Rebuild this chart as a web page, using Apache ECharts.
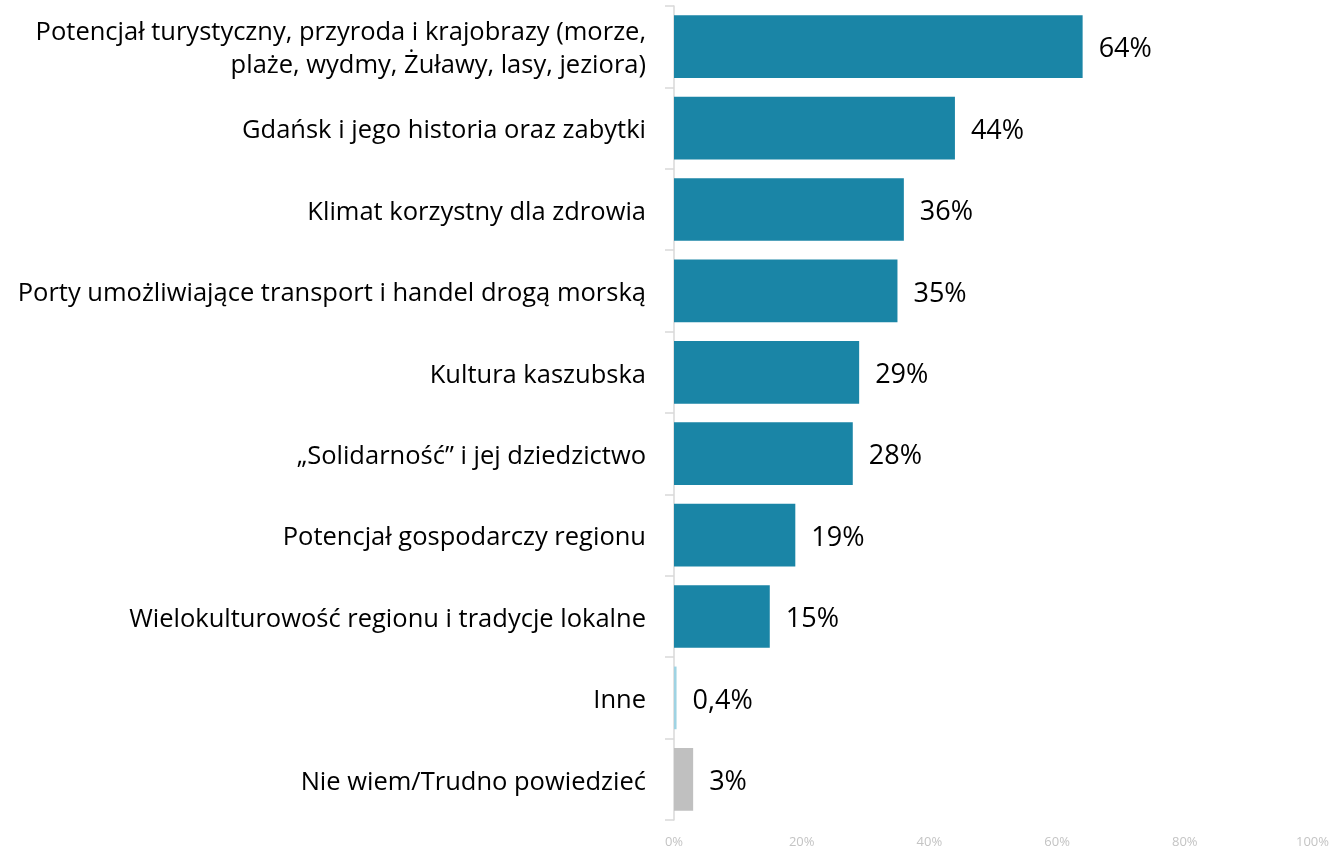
<!DOCTYPE html>
<html>
<head>
<meta charset="utf-8">
<script src="https://cdn.jsdelivr.net/npm/echarts@6/dist/echarts.min.js"></script>
<style>
  html, body { margin: 0; padding: 0; background: #fff; }
  #chart { width: 1332px; height: 849px; }
</style>
</head>
<body>
<div id="chart"></div>
<script>
const categories = [
  'Potencjał turystyczny, przyroda i krajobrazy (morze,\nplaże, wydmy, Żuławy, lasy, jeziora)',
  'Gdańsk i jego historia oraz zabytki',
  'Klimat korzystny dla zdrowia',
  'Porty umożliwiające transport i handel drogą morską',
  'Kultura kaszubska',
  '„Solidarność” i jej dziedzictwo',
  'Potencjał gospodarczy regionu',
  'Wielokulturowość regionu i tradycje lokalne',
  'Inne',
  'Nie wiem/Trudno powiedzieć'
];
const values = [64, 44, 36, 35, 29, 28, 19, 15, 0.4, 3];
const valueLabels = ['64%', '44%', '36%', '35%', '29%', '28%', '19%', '15%', '0,4%', '3%'];
const barColors = ['#1a85a6', '#1a85a6', '#1a85a6', '#1a85a6', '#1a85a6', '#1a85a6', '#1a85a6', '#1a85a6', '#9fd3e3', '#c0c0c0'];
const xTicks = [0, 20, 40, 60, 80, 100];

const chart = echarts.init(document.getElementById('chart'));
chart.setOption({
  animation: false,
  grid: { left: 674, right: 19, top: 6, bottom: 28 },
  xAxis: {
    type: 'value', min: 0, max: 100, interval: 20,
    splitLine: { show: false },
    axisLine: { show: false },
    axisTick: { show: false },
    axisLabel: {
      color: '#c4c4c4', fontSize: 13, fontFamily: 'Open Sans', margin: 16,
      formatter: v => xTicks.includes(v) ? v + '%' : ''
    }
  },
  yAxis: {
    type: 'category', inverse: true, data: categories,
    axisLine: { show: true, lineStyle: { color: '#d9d9d9', width: 1.5 } },
    axisTick: { show: true, length: 9, lineStyle: { color: '#d9d9d9', width: 1.5 } },
    axisLabel: {
      margin: 28, align: 'right',
      formatter: v => v.split('\n').map(l => '{a|' + l + '}').join('\n'),
      rich: {
        a: {
          color: '#000', fontSize: 25.5, fontFamily: 'Open Sans',
          lineHeight: 33, padding: [6, 0, 0, 0], align: 'right'
        }
      }
    }
  },
  series: [{
    type: 'bar',
    data: values.map((v, i) => ({ value: v, itemStyle: { color: barColors[i] } })),
    barWidth: '77%',
    label: {
      show: true, position: 'right', distance: 16, offset: [0, 3],
      color: '#000', fontSize: 27, fontFamily: 'Open Sans',
      formatter: p => valueLabels[p.dataIndex]
    }
  }]
});
</script>
</body>
</html>
